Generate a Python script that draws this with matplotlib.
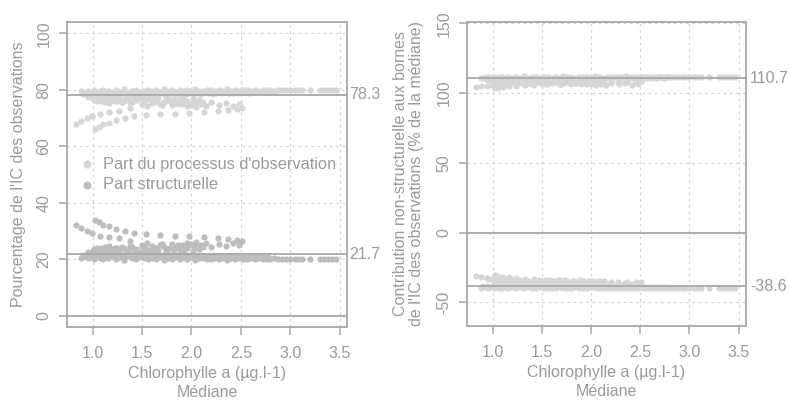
import numpy as np
import matplotlib.pyplot as plt

plt.rcParams['font.family'] = ['Liberation Sans', 'DejaVu Sans']

# dense band of points near the reference lines (upper row)
band_x = [0.88, 0.92, 0.95, 0.98, 1.01, 1.04, 1.07, 1.10, 1.13, 1.16,
          1.20, 1.24, 1.28, 1.32, 1.36, 1.40, 1.44, 1.48, 1.52, 1.56,
          1.60, 1.64, 1.68, 1.72, 1.76, 1.80, 1.84, 1.88, 1.92, 1.96,
          2.00, 2.04, 2.08, 2.12, 2.16, 2.20, 2.24, 2.28, 2.32, 2.36,
          2.40, 2.44, 2.48, 2.52, 2.56, 2.60, 2.64, 2.68, 2.72, 2.76,
          2.80, 2.84, 2.88, 2.92, 2.96, 3.00, 3.05, 3.08, 3.12, 3.20,
          3.30, 3.34, 3.38, 3.42, 3.46]
band_obs = [79.4, 78.9, 79.7, 79.1, 79.9, 78.8, 79.5, 80.0, 79.2, 79.6,
            78.9, 79.8, 79.3, 80.1, 79.0, 79.6, 79.9, 79.2, 79.7, 80.0,
            79.4, 79.8, 79.1, 80.1, 79.5, 79.9, 79.3, 80.0, 79.6, 79.8,
            79.2, 80.1, 79.7, 79.4, 79.9, 80.0, 79.5, 79.8, 79.6, 80.1,
            79.7, 79.9, 79.5, 79.8, 80.0, 79.7, 79.9, 79.6, 80.0, 79.8,
            79.9, 79.7, 80.0, 79.8, 79.9, 80.0, 79.8, 79.9, 80.0, 79.9,
            80.0, 79.9, 80.0, 80.0, 79.9]
band_struct = [20.6, 21.1, 20.3, 20.9, 20.1, 21.2, 20.5, 20.0, 20.8, 20.4,
               21.1, 20.2, 20.7, 19.9, 21.0, 20.4, 20.1, 20.8, 20.3, 20.0,
               20.6, 20.2, 20.9, 19.9, 20.5, 20.1, 20.7, 20.0, 20.4, 20.2,
               20.8, 19.9, 20.3, 20.6, 20.1, 20.0, 20.5, 20.2, 20.4, 19.9,
               20.3, 20.1, 20.5, 20.2, 20.0, 20.3, 20.1, 20.4, 20.0, 20.2,
               20.1, 20.3, 20.0, 20.2, 20.1, 20.0, 20.2, 20.1, 20.0, 20.1,
               20.0, 20.1, 20.0, 20.0, 20.1]
band_upper = [111.2, 110.8, 111.5, 111.0, 111.7, 110.7, 111.3, 111.9, 111.1, 111.4,
              110.8, 111.6, 111.2, 112.0, 110.9, 111.4, 111.7, 111.1, 111.5, 111.9,
              111.2, 111.6, 111.0, 112.0, 111.3, 111.7, 111.2, 111.9, 111.4, 111.6,
              111.1, 112.0, 111.5, 111.2, 111.7, 111.9, 111.3, 111.6, 111.4, 112.0,
              111.5, 111.7, 111.3, 111.6, 111.9, 111.5, 111.7, 111.4, 111.9, 111.6,
              111.7, 111.5, 111.9, 111.6, 111.7, 111.9, 111.6, 111.7, 111.9, 111.7,
              111.9, 111.7, 111.9, 111.9, 111.7]
band_lower = [-39.4, -38.9, -39.7, -39.1, -39.9, -38.8, -39.5, -40.0, -39.2, -39.6,
              -38.9, -39.8, -39.3, -40.1, -39.0, -39.6, -39.9, -39.2, -39.7, -40.0,
              -39.4, -39.8, -39.1, -40.1, -39.5, -39.9, -39.3, -40.0, -39.6, -39.8,
              -39.2, -40.1, -39.7, -39.4, -39.9, -40.0, -39.5, -39.8, -39.6, -40.1,
              -39.7, -39.9, -39.5, -39.8, -40.0, -39.7, -39.9, -39.6, -40.0, -39.8,
              -39.9, -39.7, -40.0, -39.8, -39.9, -40.0, -39.8, -39.9, -40.0, -39.9,
              -40.0, -39.9, -40.0, -40.0, -39.9]

# dense band, lower row
band2_x = [0.90, 0.94, 0.97, 1.00, 1.03, 1.06, 1.09, 1.12, 1.15, 1.18,
           1.22, 1.26, 1.30, 1.34, 1.38, 1.42, 1.46, 1.50, 1.54, 1.58,
           1.62, 1.66, 1.70, 1.74, 1.78, 1.82, 1.86, 1.90, 1.94, 1.98,
           2.02, 2.06, 2.10, 2.14, 2.18, 2.22, 2.26, 2.30, 2.34, 2.38,
           2.42, 2.46, 2.50, 2.54, 2.58, 2.62, 2.66, 2.70, 2.74, 2.78]
band2_obs = [78.6, 78.3, 78.9, 78.5, 78.2, 78.8, 78.4, 78.7, 78.3, 78.9,
             78.5, 78.2, 78.8, 78.6, 78.4, 79.0, 78.5, 78.7, 78.3, 78.9,
             78.6, 78.4, 79.0, 78.7, 78.5, 78.9, 78.6, 78.8, 78.4, 79.0,
             78.7, 78.9, 78.5, 79.1, 78.8, 78.6, 79.0, 78.8, 79.1, 78.9,
             79.0, 78.8, 79.1, 79.2, 79.0, 79.2, 79.1, 79.3, 79.2, 79.3]
band2_struct = [21.4, 21.7, 21.1, 21.5, 21.8, 21.2, 21.6, 21.3, 21.7, 21.1,
                21.5, 21.8, 21.2, 21.4, 21.6, 21.0, 21.5, 21.3, 21.7, 21.1,
                21.4, 21.6, 21.0, 21.3, 21.5, 21.1, 21.4, 21.2, 21.6, 21.0,
                21.3, 21.1, 21.5, 20.9, 21.2, 21.4, 21.0, 21.2, 20.9, 21.1,
                21.0, 21.2, 20.9, 20.8, 21.0, 20.8, 20.9, 20.7, 20.8, 20.7]
band2_upper = [110.6, 110.3, 110.9, 110.5, 110.2, 110.8, 110.4, 110.7, 110.3, 110.9,
               110.5, 110.2, 110.8, 110.6, 110.4, 111.0, 110.5, 110.7, 110.3, 110.9,
               110.6, 110.4, 111.0, 110.7, 110.5, 110.9, 110.6, 110.8, 110.4, 111.0,
               110.7, 110.9, 110.5, 111.1, 110.8, 110.6, 111.0, 110.8, 111.1, 110.9,
               111.0, 110.8, 111.1, 111.2, 111.0, 111.2, 111.1, 111.3, 111.2, 111.3]
band2_lower = [-38.4, -38.1, -38.7, -38.3, -38.0, -38.6, -38.2, -38.5, -38.1, -38.7,
               -38.3, -38.0, -38.6, -38.4, -38.2, -38.8, -38.3, -38.5, -38.1, -38.7,
               -38.4, -38.2, -38.8, -38.5, -38.3, -38.7, -38.4, -38.6, -38.2, -38.8,
               -38.5, -38.7, -38.3, -38.9, -38.6, -38.4, -38.8, -38.6, -38.9, -38.7,
               -38.8, -38.6, -38.9, -39.0, -38.8, -39.0, -38.9, -39.1, -39.0, -39.1]

# cluster a little further from the lines (medians below 2.5)
clus_x = [0.95, 1.00, 1.03, 1.06, 1.08, 1.10, 1.12, 1.15, 1.18, 1.21,
          1.25, 1.28, 1.32, 1.36, 1.40, 1.45, 1.50, 1.53, 1.56, 1.60,
          1.64, 1.68, 1.72, 1.76, 1.80, 1.84, 1.87, 1.90, 1.93, 1.96,
          2.00, 2.03, 2.06, 2.10, 2.15, 2.20, 2.28, 2.35, 2.42, 2.48]
clus_obs = [77.6, 77.2, 76.8, 77.5, 76.2, 77.0, 75.8, 76.9, 76.4, 77.3,
            75.9, 76.7, 76.2, 77.1, 75.6, 76.5, 74.8, 75.9, 76.6, 75.2,
            76.1, 74.9, 75.7, 76.3, 74.6, 75.5, 76.0, 74.8, 75.4, 76.2,
            74.5, 75.6, 76.1, 75.0, 74.2, 75.8, 74.6, 75.2, 74.3, 74.8]
clus_struct = [22.4, 22.8, 23.2, 22.5, 23.8, 23.0, 24.2, 23.1, 23.6, 22.7,
               24.1, 23.3, 23.8, 22.9, 24.4, 23.5, 25.2, 24.1, 23.4, 24.8,
               23.9, 25.1, 24.3, 23.7, 25.4, 24.5, 24.0, 25.2, 24.6, 23.8,
               25.5, 24.4, 23.9, 25.0, 25.8, 24.2, 25.4, 24.8, 25.7, 25.2]
clus_upper = [109.6, 109.2, 108.8, 109.5, 108.2, 109.0, 107.8, 108.9, 108.4, 109.3,
              107.6, 108.6, 108.0, 109.1, 107.4, 108.3, 106.5, 107.7, 108.4, 107.0,
              107.9, 106.6, 107.5, 108.1, 106.3, 107.2, 107.8, 106.4, 107.1, 107.9,
              106.2, 107.3, 107.8, 106.7, 106.0, 107.5, 106.3, 106.9, 106.1, 106.5]
clus_lower = [-33.5, -34.0, -34.6, -33.8, -35.2, -34.3, -35.6, -34.5, -35.0, -34.1,
              -35.8, -34.8, -35.3, -34.4, -36.0, -35.1, -36.6, -35.5, -34.9, -36.2,
              -35.4, -36.5, -35.7, -35.1, -36.8, -35.9, -35.4, -36.6, -36.0, -35.3,
              -36.9, -35.8, -35.4, -36.4, -37.0, -35.6, -36.7, -36.1, -36.9, -36.4]

clus2_x = [1.01, 1.04, 1.07, 1.11, 1.14, 1.17, 1.20, 1.23, 1.27, 1.30,
           1.34, 1.38, 1.42, 1.47, 1.51, 1.55, 1.58, 1.62, 1.66, 1.70,
           1.74, 1.78, 1.82, 1.86, 1.89, 1.92, 1.95, 1.98, 2.02, 2.05,
           2.08, 2.12]
clus2_obs = [76.3, 75.9, 77.8, 76.6, 77.9, 75.4, 77.6, 76.0, 77.9, 75.7,
             77.7, 75.3, 77.4, 77.8, 76.8, 74.4, 77.5, 76.7, 77.2, 74.6,
             77.4, 75.9, 76.8, 74.9, 77.3, 76.6, 74.2, 75.1, 77.0, 74.0,
             76.5, 75.6]
clus2_struct = [23.7, 24.1, 22.2, 23.4, 22.1, 24.6, 22.4, 24.0, 22.1, 24.3,
                22.3, 24.7, 22.6, 22.2, 23.2, 25.6, 22.5, 23.3, 22.8, 25.4,
                22.6, 24.1, 23.2, 25.1, 22.7, 23.4, 25.8, 24.9, 23.0, 26.0,
                23.5, 24.4]
clus2_upper = [108.4, 108.0, 109.8, 108.7, 109.9, 107.5, 109.6, 108.1, 109.9, 107.8,
               109.7, 107.3, 109.4, 109.8, 108.8, 106.4, 109.5, 108.7, 109.2, 106.6,
               109.4, 107.9, 108.8, 106.9, 109.3, 108.6, 106.2, 107.1, 109.0, 106.0,
               108.5, 107.6]
clus2_lower = [-35.2, -35.6, -33.8, -34.9, -33.7, -36.0, -33.9, -35.5, -33.7, -35.8,
               -33.8, -36.1, -34.1, -33.7, -34.7, -36.9, -34.0, -34.8, -34.3, -36.8,
               -34.1, -35.6, -34.7, -36.6, -34.2, -34.9, -37.1, -36.4, -34.5, -37.2,
               -35.0, -35.9]

# two outlying curves
curve_a_x = [0.835, 0.885, 0.94, 0.99, 1.07, 1.17, 1.27, 1.375]
curve_a_obs = [67.8, 69.0, 70.0, 70.8, 71.6, 72.3, 72.6, 73.5]
curve_a_struct = [32.2, 31.0, 30.0, 29.2, 28.4, 27.7, 27.4, 26.5]
curve_a_upper = [104.3, 104.8, 105.3, 105.7, 106.2, 106.6, 106.9, 107.2]
curve_a_lower = [-30.9, -31.8, -32.7, -33.3, -34.0, -34.5, -35.0, -35.4]

curve_b_x = [1.02, 1.06, 1.105, 1.17, 1.24, 1.33, 1.42, 1.54,
             1.68, 1.83, 1.98, 2.13, 2.27, 2.37, 2.46, 2.51]
curve_b_obs = [66.1, 66.9, 67.8, 68.4, 69.3, 70.0, 70.6, 71.0,
               71.4, 71.6, 71.8, 72.2, 72.6, 73.0, 73.3, 73.5]
curve_b_struct = [33.9, 33.1, 32.2, 31.6, 30.7, 30.0, 29.4, 29.0,
                  28.6, 28.4, 28.2, 27.8, 27.4, 27.0, 26.7, 26.5]
curve_b_upper = [103.4, 103.8, 104.4, 104.9, 105.3, 105.7, 106.0, 106.4,
                 106.8, 107.1, 107.4, 107.6, 107.9, 108.1, 108.3, 108.4]
curve_b_lower = [-30.4, -30.9, -31.6, -32.2, -32.7, -33.1, -33.4, -33.8,
                 -34.2, -34.5, -34.8, -35.0, -35.3, -35.5, -35.7, -35.8]

mean_obs = 78.3
mean_struct = 21.7
mean_upper = 110.7
mean_lower = -38.6

x_ticks = [1.0, 1.5, 2.0, 2.5, 3.0, 3.5]
left_yticks = [0, 20, 40, 60, 80, 100]
right_yticks = [-50, 0, 50, 100, 150]

x = np.concatenate([band_x, band2_x, clus_x, clus2_x, curve_a_x, curve_b_x])
obs = np.concatenate([band_obs, band2_obs, clus_obs, clus2_obs, curve_a_obs, curve_b_obs])
struct = np.concatenate([band_struct, band2_struct, clus_struct, clus2_struct,
                         curve_a_struct, curve_b_struct])
upper = np.concatenate([band_upper, band2_upper, clus_upper, clus2_upper,
                        curve_a_upper, curve_b_upper])
lower = np.concatenate([band_lower, band2_lower, clus_lower, clus2_lower,
                        curve_a_lower, curve_b_lower])

txt = '#9a9a9a'
frame = '#a8a8a8'
c_obs = '#d6d6d6'
c_struct = '#bdbdbd'
fs = 11.5
ms = 20

fig = plt.figure(figsize=(7.9, 4.03), dpi=100)
ax1 = fig.add_axes([67/790, 76/403, 280/790, 305/403])
ax2 = fig.add_axes([467/790, 77/403, 279/790, 304/403])


def style(ax, yticks):
    ax.set_xticks(x_ticks)
    ax.set_xticklabels(['%.1f' % v for v in x_ticks])
    ax.set_yticks(yticks)
    ax.set_yticklabels([str(v) for v in yticks], rotation=90, va='center')
    ax.grid(True, color='#d2d2d2', linestyle=(0, (2, 3)), linewidth=0.9)
    ax.set_axisbelow(True)
    for s in ax.spines.values():
        s.set_color(frame)
        s.set_linewidth(1.3)
    ax.tick_params(colors=frame, labelcolor=txt, labelsize=fs, length=6, width=1.1)
    ax.tick_params(axis='x', pad=8)
    ax.tick_params(axis='y', pad=5)
    ax.set_xlabel('Chlorophylle a (µg.l-1)\nMédiane', color=txt, fontsize=fs,
                  linespacing=1.35, labelpad=3)


# left panel: shares of the interval
ax1.scatter(x, obs, s=ms, color=c_obs, linewidths=0, label="Part du processus d'observation")
ax1.scatter(x, struct, s=ms, color=c_struct, linewidths=0, label='Part structurelle')
for v in [0, mean_obs, mean_struct]:
    ax1.axhline(v, color=frame, linewidth=1.3)
ax1.set_xlim(0.74, 3.575)
ax1.set_ylim(-4, 104)
style(ax1, left_yticks)
ax1.set_ylabel("Pourcentage de l'IC des observations", color=txt, fontsize=fs, labelpad=8)
for v in [mean_obs, mean_struct]:
    ax1.annotate('%.1f' % v, xy=(1, v), xycoords=('axes fraction', 'data'),
                 xytext=(1.5, 0), textcoords='offset points', va='center', ha='left',
                 color=txt, fontsize=fs)
leg = ax1.legend(loc='center left', bbox_to_anchor=(0.0, 0.5), frameon=False,
                 fontsize=fs + 0.3, handlelength=1.6, handletextpad=0.2, labelspacing=0.35,
                 markerscale=1.3, borderaxespad=0.0)
for t in leg.get_texts():
    t.set_color(txt)

# right panel: contribution to the bounds
ax2.scatter(x, upper, s=ms, color=c_obs, linewidths=0)
ax2.scatter(x, lower, s=ms, color=c_obs, linewidths=0)
for v in [0, mean_upper, mean_lower]:
    ax2.axhline(v, color=frame, linewidth=1.3)
ax2.set_xlim(0.74, 3.575)
ax2.set_ylim(-67, 151)
style(ax2, right_yticks)
ax2.set_ylabel("Contribution non-structurelle aux bornes\nde l'IC des observations (% de la médiane)",
               color=txt, fontsize=fs, labelpad=9, linespacing=1.1)
for v in [mean_upper, mean_lower]:
    ax2.annotate('%.1f' % v, xy=(1, v), xycoords=('axes fraction', 'data'),
                 xytext=(3, 0), textcoords='offset points', va='center', ha='left',
                 color=txt, fontsize=fs)

fig.savefig('out.png', dpi=100)
